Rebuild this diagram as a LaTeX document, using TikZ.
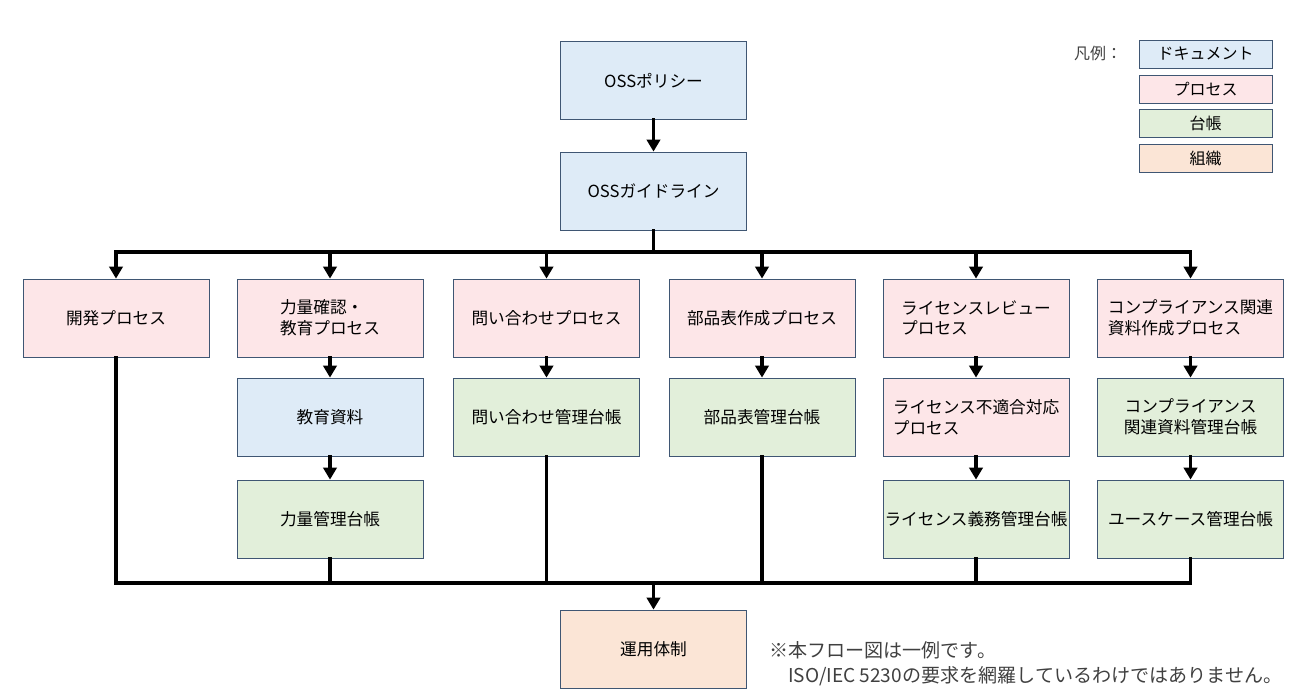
\documentclass[tikz,border=0pt]{standalone}
\usepackage{fontspec}
\setmainfont{Noto Sans CJK JP}
\usetikzlibrary{arrows.meta}

\definecolor{docblue}{HTML}{DEEBF7}
\definecolor{procpink}{HTML}{FDE6E8}
\definecolor{ledgergreen}{HTML}{E2EFDA}
\definecolor{orgorange}{HTML}{FBE5D6}
\definecolor{boxline}{HTML}{3F5673}
\definecolor{notegray}{HTML}{404040}

\tikzset{
  box/.style={draw=boxline, line width=0.6pt, minimum width=139.5pt, minimum height=58.5pt,
    inner xsep=0pt, inner ysep=1pt, align=left, font=\fontsize{12.5}{15.5}\selectfont},
  doc/.style={box, fill=docblue},
  proc/.style={box, fill=procpink},
  ledger/.style={box, fill=ledgergreen},
  org/.style={box, fill=orgorange},
  legendbox/.style={draw=boxline, line width=0.6pt, minimum width=99.75pt, minimum height=21pt,
    inner sep=1pt, font=\fontsize{12}{14}\selectfont},
  bus/.style={line width=2.8pt, line cap=rect},
  flow/.style={line width=2.8pt, line cap=rect, -{Triangle[length=9pt,width=10pt]}}
}

\begin{document}
\begin{tikzpicture}[x=0.75pt, y=-0.75pt]
    \useasboundingbox (0,0) rectangle (1295,696);

    % documents on top
    \node[doc] (policy) at (653.5,80.5) {OSSポリシー};
    \node[doc] (guide)  at (653.5,191)  {OSSガイドライン};

    % processes
    \node[proc] (dev)  at (116,318)    {開発プロセス};
    \node[proc] (comp) at (330,318)    {力量確認・\\教育プロセス};
    \node[proc] (inq)  at (546.5,318)  {問い合わせプロセス};
    \node[proc] (bom)  at (762,318)    {部品表作成プロセス};
    \node[proc] (lrev) at (976,318)    {ライセンスレビュー\\プロセス};
    \node[proc] (cdoc) at (1190.5,318) {コンプライアンス関連\\資料作成プロセス};

    % second row
    \node[doc]    (edu)     at (330,417)    {教育資料};
    \node[ledger] (inqled)  at (546.5,417)  {問い合わせ管理台帳};
    \node[ledger] (bomled)  at (762,417)    {部品表管理台帳};
    \node[proc]   (lnc)     at (976,417)    {ライセンス不適合対応\\プロセス};
    \node[ledger, align=center] (cdocled) at (1190.5,417) {コンプライアンス\\関連資料管理台帳};

    % third row
    \node[ledger] (compled) at (330,519)    {力量管理台帳};
    \node[ledger] (oblig)   at (976,519)    {ライセンス義務管理台帳};
    \node[ledger] (usecase) at (1190.5,519) {ユースケース管理台帳};

    \node[org] (ops) at (653.5,649) {運用体制};

    % connectors
    \draw[flow] (policy) -- (guide);
    \coordinate (tb) at (653.5,252);
    \coordinate (bb) at (653.5,583);
    \draw[bus] (guide) -- (tb);
    \draw[bus] (dev |- tb) -- (cdoc |- tb);
    \foreach \n in {dev,comp,inq,bom,lrev,cdoc}
        \draw[flow] (\n |- tb) -- (\n);
    \draw[flow] (comp) -- (edu);
    \draw[flow] (edu) -- (compled);
    \draw[flow] (inq) -- (inqled);
    \draw[flow] (bom) -- (bomled);
    \draw[flow] (lrev) -- (lnc);
    \draw[flow] (lnc) -- (oblig);
    \draw[flow] (cdoc) -- (cdocled);
    \draw[flow] (cdocled) -- (usecase);

    \foreach \n in {dev,compled,inqled,bomled,oblig,usecase}
        \draw[bus] (\n.south) -- (\n |- bb);
    \draw[bus] (dev |- bb) -- (usecase |- bb);
    \draw[flow] (bb) -- (ops);

    % legend
    \node[text=notegray, font=\fontsize{12}{14}\selectfont] (legtitle) at (1098,53) {凡例：};
    \node[legendbox, fill=docblue]     (legdoc)  at (1205.5,54)    {ドキュメント};
    \node[legendbox, fill=procpink]    (legproc) at (1205.5,89.5)  {プロセス};
    \node[legendbox, fill=ledgergreen] (legled)  at (1205.5,123.5) {台帳};
    \node[legendbox, fill=orgorange]   (legorg)  at (1205.5,158)   {組織};

    % note
    \node[anchor=west, align=left, text=notegray, inner sep=0pt,
          font=\fontsize{14.3}{19}\selectfont] (note) at (769,664)
          {※本フロー図は一例です。\\\hspace{1em}ISO/IEC 5230の要求を網羅しているわけではありません。};
\end{tikzpicture}
\end{document}
